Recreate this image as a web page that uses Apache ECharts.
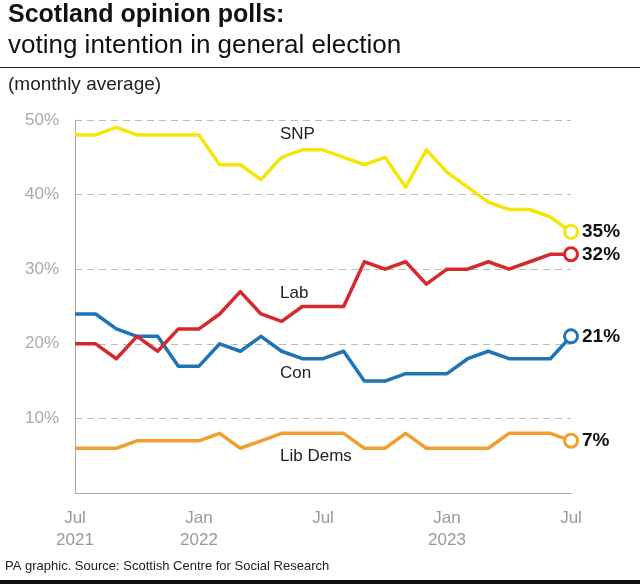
<!DOCTYPE html>
<html>
<head>
<meta charset="utf-8">
<script src="https://cdn.jsdelivr.net/npm/echarts@6/dist/echarts.min.js"></script>
<style>
html,body{margin:0;padding:0;background:#fff;}
#chart{width:640px;height:584px;}
</style>
</head>
<body>
<div id="chart"></div>
<script>
const months = ['Jul 2021','Aug 2021','Sep 2021','Oct 2021','Nov 2021','Dec 2021',
  'Jan 2022','Feb 2022','Mar 2022','Apr 2022','May 2022','Jun 2022',
  'Jul 2022','Aug 2022','Sep 2022','Oct 2022','Nov 2022','Dec 2022',
  'Jan 2023','Feb 2023','Mar 2023','Apr 2023','May 2023','Jun 2023','Jul 2023'];
const tickLabels = {0:'Jul\n2021', 6:'Jan\n2022', 12:'Jul', 18:'Jan\n2023', 24:'Jul'};
const snp = [48,48,49,48,48,48,48,44,44,42,45,46,46,45,44,45,41,46,43,41,39,38,38,37,35];
const lab = [20,20,18,21,19,22,22,24,27,24,23,25,25,25,31,30,31,28,30,30,31,30,31,32,32];
const con = [24,24,22,21,21,17,17,20,19,21,19,18,18,19,15,15,16,16,16,18,19,18,18,18,21];
const libDems = [6,6,6,7,7,7,7,8,6,7,8,8,8,8,6,6,8,6,6,6,6,8,8,8,7];

const FONT = '"Liberation Sans", Arial, Helvetica, sans-serif';
const last = months.length - 1;

function mkSeries(name, data, color) {
  return {
    name: name,
    type: 'line',
    data: data,
    showSymbol: true,
    showAllSymbol: true,
    symbol: 'circle',
    symbolSize: function (v, p) { return p.dataIndex === last ? 13 : 0; },
    itemStyle: { color: '#fff', borderColor: color, borderWidth: 3 },
    lineStyle: { color: color, width: 3.5, join: 'round' },
    emphasis: { disabled: true },
    silent: true,
    animation: false,
    z: 3,
    endLabel: {
      show: true,
      formatter: function (p) { return p.value + '%'; },
      color: '#111',
      fontFamily: FONT,
      fontWeight: 'bold',
      fontSize: 19,
      distance: 11
    }
  };
}

const chart = echarts.init(document.getElementById('chart'), null, { renderer: 'canvas' });
chart.setOption({
  backgroundColor: '#fff',
  animation: false,
  title: [
    { text: 'Scotland opinion polls:', left: 8, top: 3, padding: 0,
      textStyle: { fontFamily: FONT, fontWeight: 'bold', fontSize: 25, color: '#111' } },
    { text: 'voting intention in general election', left: 8, top: 33, padding: 0,
      textStyle: { fontFamily: FONT, fontWeight: 'normal', fontSize: 26, color: '#111' } },
    { text: '(monthly average)', left: 8, top: 75, padding: 0,
      textStyle: { fontFamily: FONT, fontWeight: 'normal', fontSize: 19, color: '#222' } },
    { text: 'PA graphic. Source: Scottish Centre for Social Research', left: 5, top: 560, padding: 0,
      textStyle: { fontFamily: FONT, fontWeight: 'normal', fontSize: 13, color: '#222' } }
  ],
  grid: { left: 75, right: 69, top: 120, bottom: 91, containLabel: false },
  xAxis: {
    type: 'category',
    data: months,
    boundaryGap: false,
    axisLine: { show: true, lineStyle: { color: '#aaa', width: 1 } },
    axisTick: { show: false },
    splitLine: { show: false },
    axisLabel: {
      interval: 0,
      margin: 14,
      color: '#999',
      fontFamily: FONT,
      fontSize: 17,
      lineHeight: 22,
      formatter: function (v, i) { return tickLabels[i] !== undefined ? tickLabels[i] : ''; }
    }
  },
  yAxis: {
    type: 'value',
    min: 0, max: 50, interval: 10,
    axisLine: { show: true, lineStyle: { color: '#aaa', width: 1 } },
    axisTick: { show: false },
    splitLine: { show: true, lineStyle: { color: '#bbb', type: [7, 5], width: 1 } },
    axisLabel: {
      margin: 16,
      color: '#aaa',
      fontFamily: FONT,
      fontSize: 17,
      formatter: function (v) { return v === 0 ? '' : v + '%'; }
    }
  },
  series: [
    mkSeries('Lib Dems', libDems, '#f0a030'),
    mkSeries('Con', con, '#1f74b5'),
    mkSeries('Lab', lab, '#d42a2e'),
    mkSeries('SNP', snp, '#f5e50c')
  ],
  graphic: [
    { type: 'line', shape: { x1: 0, y1: 67.5, x2: 640, y2: 67.5 }, style: { stroke: '#222', lineWidth: 1 } },
    { type: 'rect', shape: { x: 0, y: 580, width: 640, height: 4 }, style: { fill: '#111' } },
    { type: 'text', left: 280, top: 126, style: { text: 'SNP', font: '17px ' + FONT, fill: '#222' } },
    { type: 'text', left: 280, top: 285, style: { text: 'Lab', font: '17px ' + FONT, fill: '#222' } },
    { type: 'text', left: 280, top: 365, style: { text: 'Con', font: '17px ' + FONT, fill: '#222' } },
    { type: 'text', left: 280, top: 448, style: { text: 'Lib Dems', font: '17px ' + FONT, fill: '#222' } }
  ]
});
</script>
</body>
</html>
